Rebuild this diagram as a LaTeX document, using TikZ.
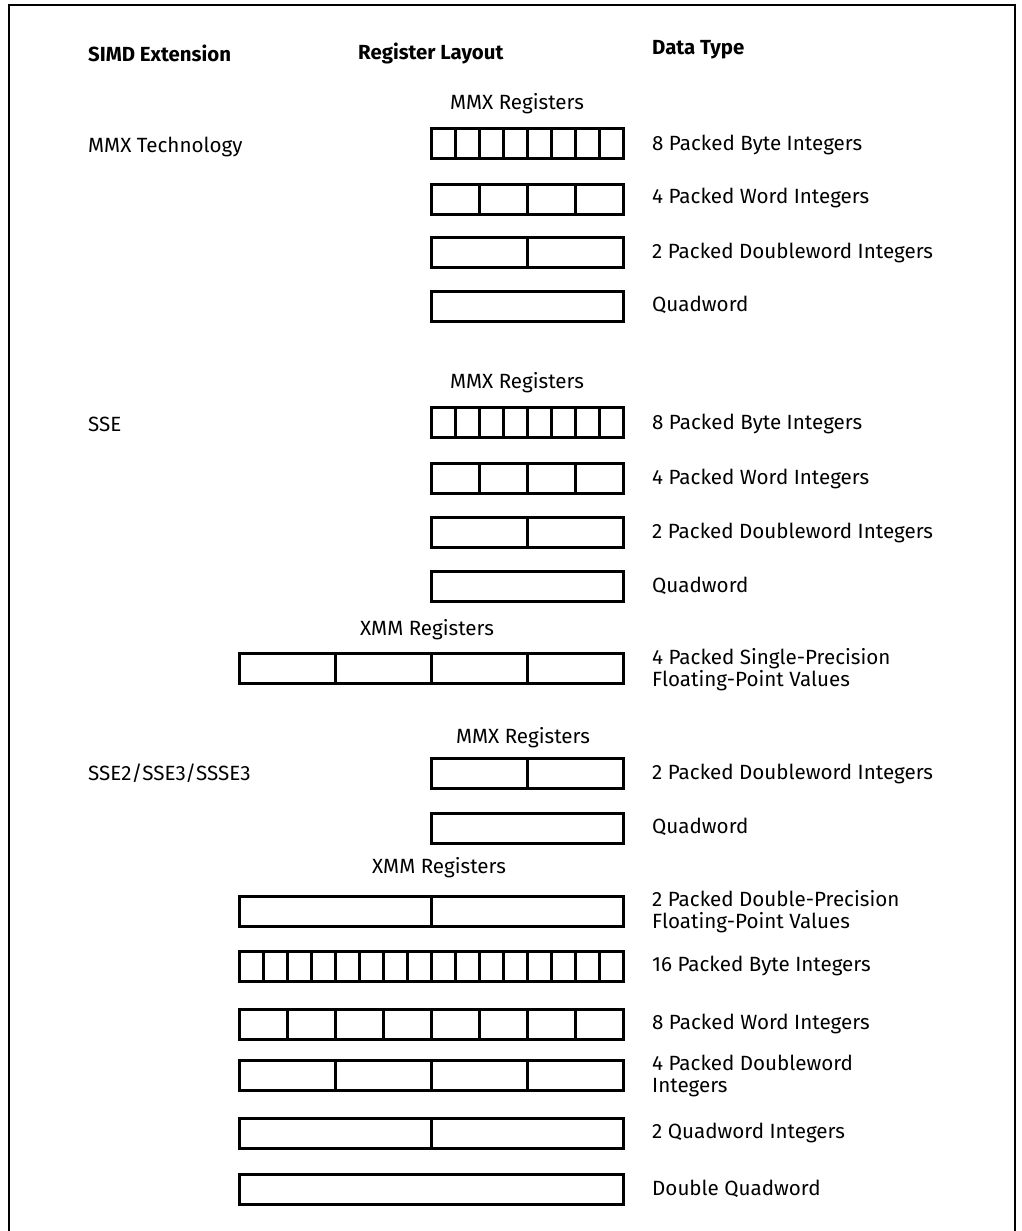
\documentclass[tikz,border=0pt]{standalone}
\usepackage{fontspec}
\setmainfont{Fira Sans}
\usetikzlibrary{calc}
\newcommand\regrow[5]{%
  \node[regbox, minimum width={#3-#2}, minimum height=30] (#1) at ({(#2+#3)/2},#4) {};
  \pgfmathtruncatemacro\regnm{#5-1}%
  \ifnum\regnm>0
    \foreach \i in {1,...,\regnm}{%
      \draw[regline] ($(#1.north west)!\i/#5!(#1.north east)$) -- ($(#1.south west)!\i/#5!(#1.south east)$);
    }%
  \fi
}
\begin{document}
\begin{tikzpicture}[x=1pt,y=-1pt,
  regbox/.style={draw, line width=3pt, rectangle, inner sep=0pt, outer sep=0pt},
  regline/.style={line width=3pt},
  lbl/.style={anchor=west, inner sep=0pt, font=\fontsize{20.6}{22}\selectfont, align=left},
  hdr/.style={anchor=west, inner sep=0pt, font=\fontsize{20.4}{22}\selectfont\bfseries},
  regcap/.style={anchor=center, inner sep=0pt, font=\fontsize{20.6}{22}\selectfont},
  frame/.style={line width=2pt}]
\useasboundingbox (0,0) rectangle (1021,1231);
\draw[frame] (9.3,1240) -- (9.3,5.3) -- (1014.7,5.3) -- (1014.7,1240);

% headers
\node[hdr] (h1) at (88,53) {SIMD Extension};
\node[hdr] (h2) at (358,53) {Register Layout};
\node[hdr] (h3) at (652,50) {Data Type};

% MMX Technology
\node[lbl] (e1) at (88,147) {MMX Technology};
\node[regcap] (c1) at (517,104) {MMX Registers};
\regrow{r11}{431}{623}{143}{8}
\regrow{r12}{431}{623}{199}{4}
\regrow{r13}{431}{623}{252}{2}
\regrow{r14}{431}{623}{306.5}{1}
\node[lbl] (t11) at (652,145) {8 Packed Byte Integers};
\node[lbl] (t12) at (652,198) {4 Packed Word Integers};
\node[lbl] (t13) at (652,253) {2 Packed Doubleword Integers};
\node[lbl] (t14) at (652,305) {Quadword};

% SSE
\node[lbl] (e2) at (88,424) {SSE};
\node[regcap] (c2) at (517,383) {MMX Registers};
\regrow{r21}{431}{623}{422}{8}
\regrow{r22}{431}{623}{478}{4}
\regrow{r23}{431}{623}{532}{2}
\regrow{r24}{431}{623}{586}{1}
\node[lbl] (t21) at (652,424) {8 Packed Byte Integers};
\node[lbl] (t22) at (652,479) {4 Packed Word Integers};
\node[lbl] (t23) at (652,533) {2 Packed Doubleword Integers};
\node[lbl] (t24) at (652,586) {Quadword};
\node[regcap] (c3) at (427,630) {XMM Registers};
\regrow{r25}{239}{623.5}{668}{4}
\node[lbl] (t25) at (652,670) {4 Packed Single-Precision\\Floating-Point Values};

% SSE2/SSE3/SSSE3
\node[lbl] (e3) at (88,773) {SSE2/SSE3/SSSE3};
\node[regcap] (c4) at (523,738) {MMX Registers};
\regrow{r31}{431}{623}{773}{2}
\regrow{r32}{431}{623}{828}{1}
\node[lbl] (t31) at (652,774) {2 Packed Doubleword Integers};
\node[lbl] (t32) at (652,827) {Quadword};
\node[regcap] (c5) at (439,868) {XMM Registers};
\regrow{r33}{239}{623.5}{911.5}{2}
\regrow{r34}{239}{623.5}{966.5}{16}
\regrow{r35}{239}{623.5}{1024.5}{8}
\regrow{r36}{239}{623.5}{1075.5}{4}
\regrow{r37}{239}{623.5}{1133}{2}
\regrow{r38}{239}{623.5}{1189}{1}
\node[lbl] (t33) at (652,912) {2 Packed Double-Precision\\Floating-Point Values};
\node[lbl] (t34) at (652,966) {16 Packed Byte Integers};
\node[lbl] (t35) at (652,1024) {8 Packed Word Integers};
\node[lbl] (t36) at (652,1076) {4 Packed Doubleword\\Integers};
\node[lbl] (t37) at (652,1133) {2 Quadword Integers};
\node[lbl] (t38) at (652,1189) {Double Quadword};
\end{tikzpicture}
\end{document}
